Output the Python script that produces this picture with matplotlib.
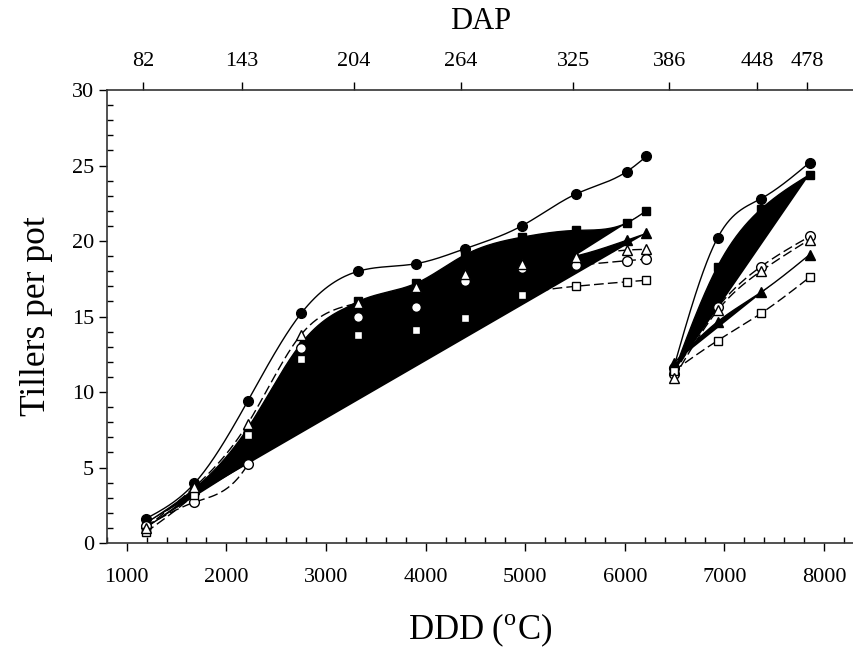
import numpy as np
import matplotlib
matplotlib.use("Agg")
import matplotlib.pyplot as plt
from matplotlib.ticker import MultipleLocator

plt.rcParams['font.family'] = ['Liberation Serif', 'DejaVu Serif']
plt.rcParams['mathtext.fontset'] = 'custom'
plt.rcParams['mathtext.rm'] = 'Liberation Serif'

# --- Data ---
# DDD positions of the two sampling periods
ddd_a = [1190, 1680, 2215, 2750, 3325, 3905, 4400, 4965, 5505, 6020, 6215]
ddd_b = [6490, 6930, 7365, 7855]

# tillers per pot (first period / second period)
filled_circle_a = [1.6, 3.95, 9.4, 15.2, 18.0, 18.5, 19.5, 21.0, 23.1, 24.6, 25.6]
filled_circle_b = [11.6, 20.2, 22.8, 25.2]
filled_square_a = [1.0, 3.4, 7.3, 12.6, 16.0, 17.2, 19.1, 20.25, 20.7, 21.2, 22.0]
filled_square_b = [11.3, 18.3, 22.1, 24.4]
filled_tri_a = [1.3, 3.6, 7.6, 13.2, 15.9, 16.9, 17.7, 18.4, 19.0, 20.05, 20.5]
filled_tri_b = [11.9, 14.65, 16.6, 19.1]
open_circle_a = [1.1, 2.7, 5.2, 12.9, 15.0, 15.6, 17.35, 18.2, 18.4, 18.7, 18.8]
open_circle_b = [11.2, 15.6, 18.3, 20.3]
open_square_a = [0.7, 3.2, 7.15, 12.2, 13.8, 14.1, 14.9, 16.4, 17.0, 17.3, 17.4]
open_square_b = [11.4, 13.4, 15.2, 17.6]
open_tri_a = [1.0, 3.7, 7.9, 13.8, 15.9, 16.95, 17.8, 18.5, 18.95, 19.4, 19.45]
open_tri_b = [10.9, 15.4, 18.0, 20.1]

# top axis: days after planting at DDD positions
dap_ddd = [1163, 2156, 3283, 4357, 5481, 6448, 7331, 7827]
dap_labels = ['82', '143', '204', '264', '325', '386', '448', '478']


def spline(x, y, n=300):
    """natural cubic spline through the points, for the smooth lines"""
    x = np.asarray(x, float)
    y = np.asarray(y, float)
    m = len(x)
    h = np.diff(x)
    A = np.zeros((m, m))
    b = np.zeros(m)
    A[0, 0] = A[-1, -1] = 1
    for i in range(1, m - 1):
        A[i, i - 1] = h[i - 1]
        A[i, i] = 2 * (h[i - 1] + h[i])
        A[i, i + 1] = h[i]
        b[i] = 3 * ((y[i + 1] - y[i]) / h[i] - (y[i] - y[i - 1]) / h[i - 1])
    c = np.linalg.solve(A, b)
    xs = np.linspace(x[0], x[-1], n)
    idx = np.clip(np.searchsorted(x, xs) - 1, 0, m - 2)
    dx = xs - x[idx]
    bb = (y[1:] - y[:-1]) / h - h * (2 * c[:-1] + c[1:]) / 3
    d = (c[1:] - c[:-1]) / (3 * h)
    ys = y[idx] + bb[idx] * dx + c[idx] * dx ** 2 + d[idx] * dx ** 3
    return xs, ys


fig = plt.figure(figsize=(8.54, 6.5), dpi=100)
ax = fig.add_axes([0.125, 0.1646, 0.875, 0.6969])

series = [
    # a, b, marker, face, dashed, filled area
    (filled_circle_a, filled_circle_b, 'o', 'black', False, False),
    (filled_square_a, filled_square_b, 's', 'black', False, True),
    (filled_tri_a, filled_tri_b, '^', 'black', False, True),
    (open_circle_a, open_circle_b, 'o', 'white', True, False),
    (open_square_a, open_square_b, 's', 'white', True, False),
    (open_tri_a, open_tri_b, '^', 'white', True, False),
]

# filled areas first
for ya, yb, mk, fc, dashed, fill in series:
    if fill:
        for xx, yy in [(ddd_a, ya), (ddd_b, yb)]:
            xs, ys = spline(xx, yy)
            ax.fill(xs, ys, color='black', lw=0, zorder=1)

for ya, yb, mk, fc, dashed, fill in series:
    for xx, yy in [(ddd_a, ya), (ddd_b, yb)]:
        xs, ys = spline(xx, yy)
        line, = ax.plot(xs, ys, color='black', lw=1.0, zorder=2)
        if dashed:
            line.set_dashes((7, 3))
for ya, yb, mk, fc, dashed, fill in series:
    ms = 7.0 if mk != 's' else 6.0
    ax.plot(ddd_a + ddd_b, ya + yb, ls='none', marker=mk, ms=ms,
            mfc=fc, mec='black', mew=1.0, zorder=3)

ax.set_xlim(800, 8300)
ax.set_ylim(0, 30)
ax.xaxis.set_major_locator(MultipleLocator(1000))
ax.xaxis.set_minor_locator(MultipleLocator(200))
ax.yaxis.set_major_locator(MultipleLocator(5))
ax.yaxis.set_minor_locator(MultipleLocator(1))
ax.tick_params(which='major', direction='out', length=6, width=1, labelsize=16)
ax.tick_params(axis='x', which='major', pad=12)
ax.tick_params(axis='y', which='major', pad=3)
ax.tick_params(which='minor', direction='in', length=4, width=1)
ax.spines['right'].set_visible(False)
ax.spines['top'].set_visible(False)
for s in ['left', 'bottom']:
    ax.spines[s].set_linewidth(1.2)
    ax.spines[s].set_color('#333333')

ax.set_xlabel(r'DDD ($^{\rm o}$C)', fontsize=25, labelpad=18)
ax.set_ylabel('Tillers per pot', fontsize=25.5, labelpad=14)

ax2 = ax.twiny()
ax2.set_xlim(ax.get_xlim())
ax2.set_xticks(dap_ddd)
ax2.set_xticklabels(dap_labels)
ax2.tick_params(direction='out', length=6, width=1, labelsize=16, pad=8)
for s in ['left', 'right', 'bottom']:
    ax2.spines[s].set_visible(False)
ax2.spines['top'].set_linewidth(1.2)
ax2.spines['top'].set_color('#333333')
ax2.set_xlabel('DAP', fontsize=22, labelpad=16)

fig.savefig('out.png', dpi=100)
